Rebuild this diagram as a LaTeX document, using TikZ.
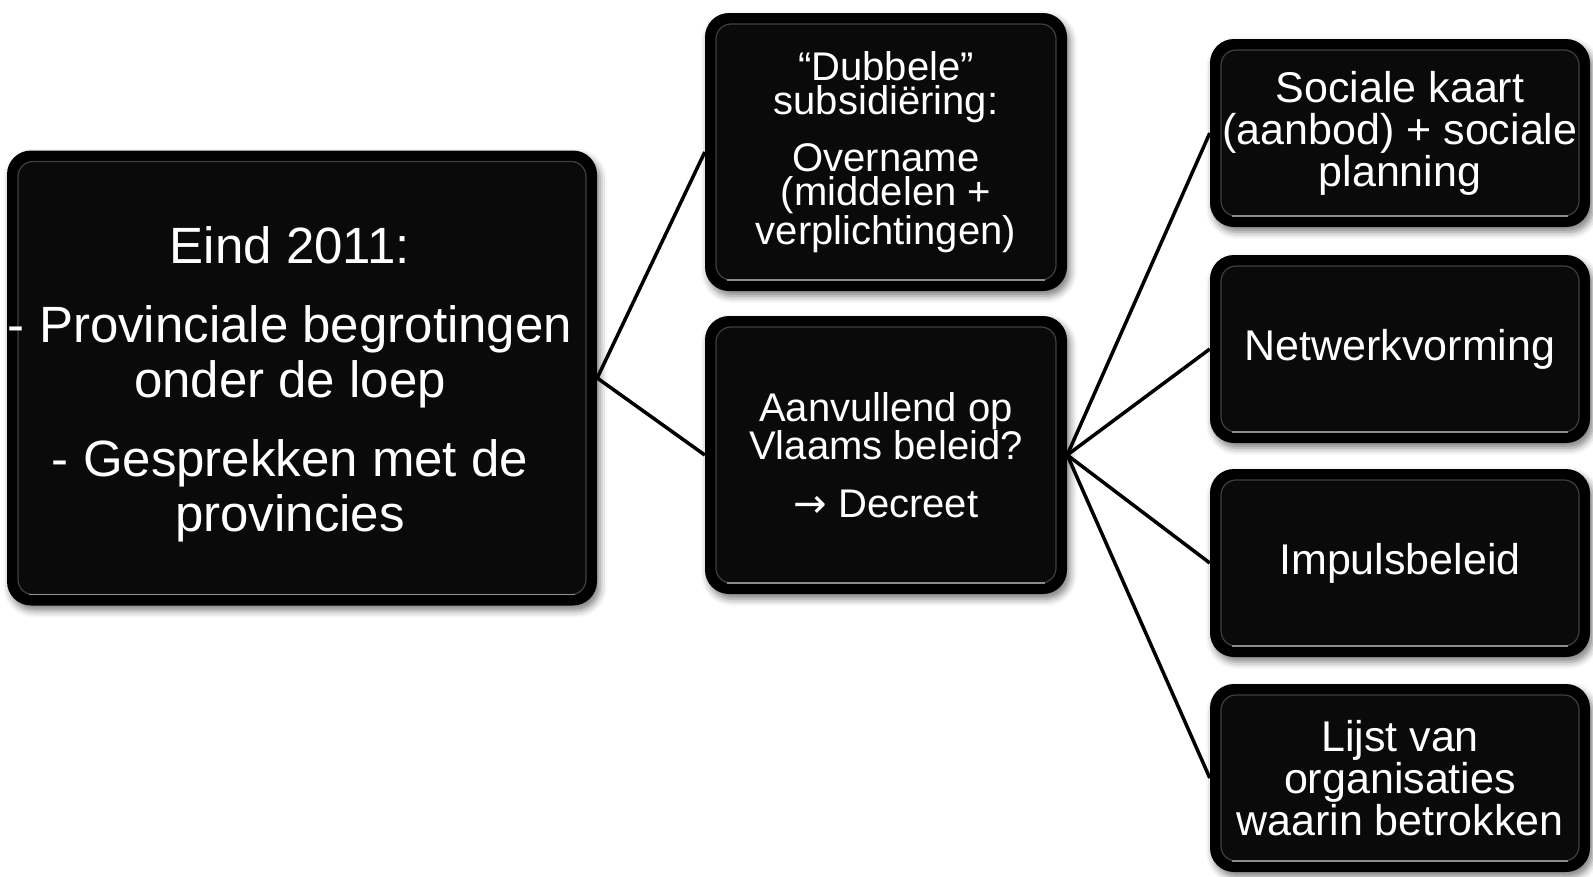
\documentclass[tikz,border=0pt]{standalone}
\usepackage{fontspec}
\setmainfont{Liberation Sans}
\newfontfamily\arrowfont{DejaVu Sans}
\usetikzlibrary{shadows.blur}

\tikzset{
  boxbase/.style={fill=black, text=white, align=center, rounded corners=24pt, inner sep=0pt,
    blur shadow={shadow xshift=3pt, shadow yshift=-5pt, shadow blur radius=7pt, shadow opacity=50},
    path picture={
      \fill[black!96!white, rounded corners=15pt]
        ([shift={(11pt,-11pt)}]path picture bounding box.north west) rectangle
        ([shift={(-11pt,11pt)}]path picture bounding box.south east);
      \draw[black!75!white, line width=1.2pt, rounded corners=15pt]
        ([shift={(11pt,-11pt)}]path picture bounding box.north west) rectangle
        ([shift={(-11pt,11pt)}]path picture bounding box.south east);
      \draw[black!45!white, line width=1.6pt]
        ([shift={(22pt,11pt)}]path picture bounding box.south west) --
        ([shift={(-22pt,11pt)}]path picture bounding box.south east);
    }},
  rootbox/.style={boxbase, minimum width=590pt, minimum height=455pt},
  roottext/.style={text=white, align=center, inner sep=0pt, font=\fontsize{51}{55}\selectfont},
  midbox/.style={boxbase, minimum width=362pt, minimum height=278pt,
    font=\fontsize{40}{34}\selectfont},
  leafbox/.style={boxbase, minimum width=380pt, minimum height=188pt,
    font=\fontsize{43}{42}\selectfont},
  link/.style={line width=3.5pt, black}
}

\begin{document}
\begin{tikzpicture}[x=1pt,y=-1pt]
\useasboundingbox (0,0) rectangle (1593,876);

\node[rootbox] (root) at (302,378) {};
\node[roottext] (roottxt) at (290,384)
  {Eind 2011:\\[24pt]- Provinciale begrotingen\\onder de loep\\[24pt]- Gesprekken met de\\provincies};

\node[midbox] (b1) at (886,152)
  {“Dubbele”\\subsidiëring:\\[20pt]Overname\\(middelen +\\verplichtingen)};
\node[midbox] (b2) at (886,455)
  {Aanvullend op\\Vlaams beleid?\\[24pt]{\arrowfont →} Decreet};

\node[leafbox] (r1) at (1400,133) {Sociale kaart\\(aanbod) + sociale\\planning};
\node[leafbox] (r2) at (1400,349) {Netwerkvorming};
\node[leafbox] (r3) at (1400,563) {Impulsbeleid};
\node[leafbox] (r4) at (1400,778) {Lijst van\\organisaties\\waarin betrokken};

\draw[link] (root.east) -- (b1.west);
\draw[link] (root.east) -- (b2.west);
\draw[link] (b2.east) -- (r1.west);
\draw[link] (b2.east) -- (r2.west);
\draw[link] (b2.east) -- (r3.west);
\draw[link] (b2.east) -- (r4.west);
\end{tikzpicture}
\end{document}
